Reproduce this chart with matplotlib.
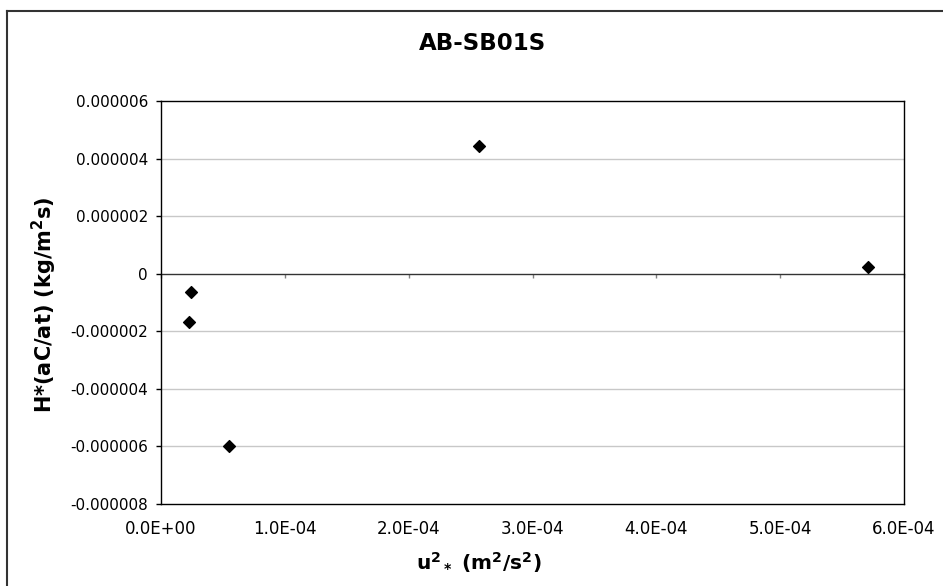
import matplotlib.pyplot as plt
from matplotlib.lines import Line2D

# u*^2 (m2/s2) against H*(aC/at) (kg/m2 s) for station AB-SB01S
u2 = [2.4e-5, 2.3e-5, 5.5e-5, 2.57e-4, 5.71e-4]
flux = [-0.64e-6, -1.68e-6, -5.97e-6, 4.43e-6, 0.25e-6]

xticks = [0, 1e-4, 2e-4, 3e-4, 4e-4, 5e-4, 6e-4]
yticks = [-8e-6, -6e-6, -4e-6, -2e-6, 0, 2e-6, 4e-6, 6e-6]
xlabels = ["0.0E+00", "1.0E-04", "2.0E-04", "3.0E-04", "4.0E-04", "5.0E-04", "6.0E-04"]
ylabels = ["-0.000008", "-0.000006", "-0.000004", "-0.000002", "0",
           "0.000002", "0.000004", "0.000006"]

plt.rcParams['font.family'] = 'DejaVu Sans'
plt.rcParams['mathtext.default'] = 'bf'

W, H = 943, 586
fig = plt.figure(figsize=(W / 100, H / 100), dpi=100)
ax = fig.add_axes([161 / W, 1 - 504 / H, (904 - 161) / W, (504 - 101) / H])

# outer chart frame (only top and left edges fall inside the image)
fig.add_artist(Line2D([7.5 / W, 7.5 / W], [0, 1 - 11 / H], color='#333333', lw=1.5))
fig.add_artist(Line2D([7.5 / W, 1], [1 - 11 / H, 1 - 11 / H], color='#333333', lw=1.5))

ax.scatter(u2, flux, marker='D', s=36, color='black', zorder=3)

ax.set_xlim(0, 6e-4)
ax.set_ylim(-8e-6, 6e-6)
ax.set_xticks(xticks)
ax.set_xticklabels(xlabels)
ax.set_yticks(yticks)
ax.set_yticklabels(ylabels)
ax.tick_params(axis='x', length=0, pad=11.5, labelsize=12)
ax.tick_params(axis='y', length=3.6, width=1, direction='out', labelsize=11, pad=5.8)

for g in [-6e-6, -4e-6, -2e-6, 2e-6, 4e-6]:
    ax.axhline(g, color='#c8c8c8', lw=1, zorder=1)

for sp in ax.spines.values():
    sp.set_color('black')
    sp.set_linewidth(1)

# x axis crossing at zero, with its small tick marks
zero_axis = ax.secondary_xaxis(0, transform=ax.transData)
zero_axis.set_xticks(xticks)
zero_axis.tick_params(length=3, width=1, color='#808080', labelbottom=False)
zero_axis.spines['bottom'].set_color('#333333')
zero_axis.spines['bottom'].set_linewidth(1)

fig.text(483 / W, 1 - 44 / H, "AB-SB01S", ha='center', va='center',
         fontsize=16.5, fontweight='bold')
fig.text(479 / W, 1 - 563 / H, r'u$^2$$_*$ (m$^2$/s$^2$)', ha='center', va='center',
         fontsize=14.5, fontweight='bold')
fig.text(44 / W, 1 - 305 / H, r'H*(aC/at) (kg/m$^2$s)', ha='center', va='center',
         rotation=90, fontsize=15, fontweight='bold')

fig.savefig('out.png', dpi=100)
